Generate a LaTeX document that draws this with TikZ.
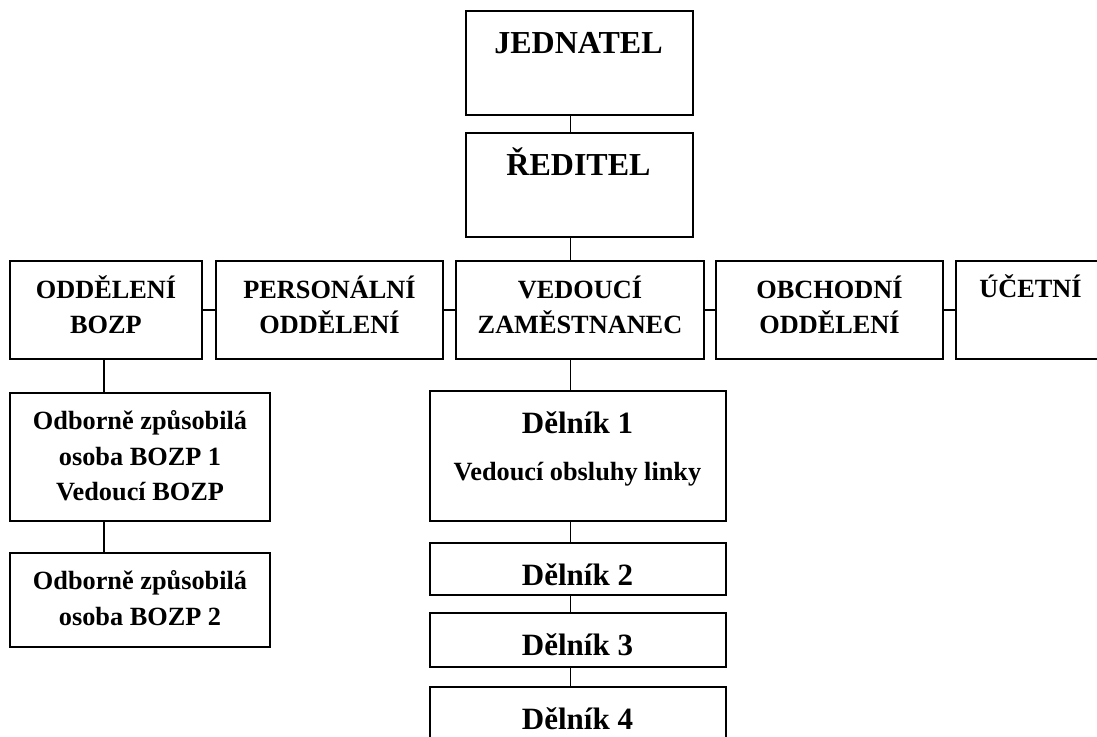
\documentclass[tikz,border=0pt]{standalone}
\usepackage{fontspec}
\setmainfont{Liberation Serif}
\begin{document}
\begin{tikzpicture}[x=1pt,y=-1pt,
  box/.style={draw, line width=1.9pt, inner sep=0pt, outer sep=0pt, rectangle},
  conn/.style={line width=1.9pt},
  top/.style={font=\fontsize{32}{38}\selectfont\bfseries, anchor=base, inner sep=0pt},
  big/.style={font=\fontsize{31}{37}\selectfont\bfseries, anchor=base, inner sep=0pt},
  mid/.style={font=\fontsize{26.3}{31}\selectfont\bfseries, anchor=base, inner sep=0pt}]
\useasboundingbox (0,0) rectangle (1097,736);
\fill[white] (0,0) rectangle (1097,736);
% boxes
\node[box, minimum width=227pt, minimum height=104pt] (jed) at (579.5,63) {};
\node[box, minimum width=227pt, minimum height=104pt] (red) at (579.5,185) {};
\node[box, minimum width=192pt, minimum height=98pt] (bozp) at (106,310) {};
\node[box, minimum width=227pt, minimum height=98pt] (pers) at (329.5,310) {};
\node[box, minimum width=248pt, minimum height=98pt] (ved) at (580,310) {};
\node[box, minimum width=227pt, minimum height=98pt] (obch) at (829.5,310) {};
\node[box, minimum width=149pt, minimum height=98pt] (ucet) at (1030.5,310) {};
\node[box, minimum width=260pt, minimum height=128pt] (ozo1) at (140,457) {};
\node[box, minimum width=260pt, minimum height=94pt] (ozo2) at (140,600) {};
\node[box, minimum width=296pt, minimum height=130pt] (d1) at (578,456) {};
\node[box, minimum width=296pt, minimum height=52pt] (d2) at (578,569) {};
\node[box, minimum width=296pt, minimum height=54pt] (d3) at (578,640) {};
\node[box, minimum width=296pt, minimum height=56pt] (d4) at (578,715) {};
% texts
\node[top] (tjed) at (578.5,53) {JEDNATEL};
\node[top] (tred) at (578.5,175) {ŘEDITEL};
\node[mid] (tbozpa) at (106,298) {ODDĚLENÍ};
\node[mid] (tbozpb) at (106,333) {BOZP};
\node[mid] (tpersa) at (329.5,298) {PERSONÁLNÍ};
\node[mid] (tpersb) at (329.5,333) {ODDĚLENÍ};
\node[mid] (tveda) at (580,298) {VEDOUCÍ};
\node[mid] (tvedb) at (580,333) {ZAMĚSTNANEC};
\node[mid] (tobcha) at (829.5,298) {OBCHODNÍ};
\node[mid] (tobchb) at (829.5,333) {ODDĚLENÍ};
\node[mid] (tucet) at (1030.5,297) {ÚČETNÍ};
\node[mid] (tozo1a) at (140,429) {Odborně způsobilá};
\node[mid] (tozo1b) at (140,465) {osoba BOZP 1};
\node[mid] (tozo1c) at (140,500) {Vedoucí BOZP};
\node[mid] (tozo2a) at (140,589) {Odborně způsobilá};
\node[mid] (tozo2b) at (140,625) {osoba BOZP 2};
\node[big] (td1) at (577.5,433) {Dělník 1};
\node[mid] (td1b) at (577.5,480) {Vedoucí obsluhy linky};
\node[big] (td2) at (577.5,585) {Dělník 2};
\node[big] (td3) at (577.5,655) {Dělník 3};
\node[big] (td4) at (577.5,729) {Dělník 4};
% connectors
\coordinate (sp) at (570.5,0);
\coordinate (lsp) at (104,0);
\draw[conn] (jed.south -| sp) -- (red.north -| sp);
\draw[conn] (red.south -| sp) -- (ved.north -| sp);
\draw[conn] (ved.south -| sp) -- (d1.north -| sp);
\draw[conn] (d1.south -| sp) -- (d2.north -| sp);
\draw[conn] (d2.south -| sp) -- (d3.north -| sp);
\draw[conn] (d3.south -| sp) -- (d4.north -| sp);
\draw[conn] (bozp.east) -- (pers.west);
\draw[conn] (pers.east) -- (ved.west);
\draw[conn] (ved.east) -- (obch.west);
\draw[conn] (obch.east) -- (ucet.west);
\draw[conn] (bozp.south -| lsp) -- (ozo1.north -| lsp);
\draw[conn] (ozo1.south -| lsp) -- (ozo2.north -| lsp);
\end{tikzpicture}
\end{document}
